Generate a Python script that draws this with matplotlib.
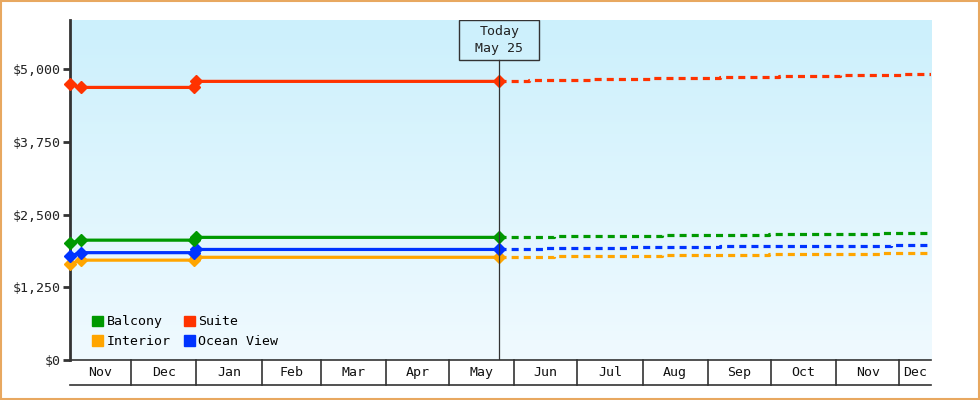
import numpy as np
import matplotlib
matplotlib.use('Agg')
import matplotlib.pyplot as plt
import matplotlib.dates as mdates
from matplotlib.patches import Patch, Rectangle
from datetime import date, timedelta

matplotlib.rcParams.update({'font.size': 9.5, 'font.family': 'DejaVu Sans Mono'})

# Data
start = date(2018, 11, 2)
end = date(2019, 12, 16)
today = date(2019, 5, 25)

hist_dates = [date(2018, 11, 2), date(2018, 11, 7), date(2018, 12, 31), date(2019, 1, 1), date(2019, 5, 25)]
balcony = [2010, 2062, 2062, 2110, 2110]
suite = [4742, 4690, 4690, 4794, 4794]
ocean = [1787, 1847, 1847, 1902, 1902]
interior = [1650, 1718, 1718, 1767, 1767]

# forecast (step changes)
suite_fc_dates = [date(2019, 5, 25), date(2019, 6, 8), date(2019, 7, 8), date(2019, 8, 6), date(2019, 9, 7),
                  date(2019, 10, 5), date(2019, 11, 3), date(2019, 12, 2), date(2019, 12, 16)]
suite_fc = [4794, 4811, 4828, 4845, 4862, 4880, 4897, 4914, 4914]
balcony_fc_dates = [date(2019, 5, 25), date(2019, 6, 20), date(2019, 8, 10), date(2019, 9, 30),
                    date(2019, 11, 22), date(2019, 12, 16)]
balcony_fc = [2110, 2130, 2147, 2165, 2182, 2182]
interior_fc_dates = balcony_fc_dates
interior_fc = [1767, 1787, 1804, 1821, 1838, 1838]
ocean_fc_dates = [date(2019, 5, 25), date(2019, 6, 15), date(2019, 7, 26), date(2019, 9, 7),
                  date(2019, 10, 15), date(2019, 11, 27), date(2019, 12, 16)]
ocean_fc = [1902, 1919, 1936, 1953, 1970, 1987, 1987]

yticks = [0, 1250, 2500, 3750, 5000]
ytick_labels = ['$0', '$1,250', '$2,500', '$3,750', '$5,000']

colors = {'Balcony': '#009900', 'Suite': '#ff3300', 'Interior': '#ffa500', 'Ocean View': '#0033ff'}

fig = plt.figure(figsize=(9.8, 4), dpi=100)
ax = fig.add_axes([70/980, 40/400, 861/980, 340/400])
ax.set_xlim(mdates.date2num(start), mdates.date2num(end))
ax.set_ylim(0, 5850)

# background gradient
grad = np.linspace(0, 1, 256).reshape(-1, 1)
top = np.array([204, 240, 252]) / 255
bot = np.array([240, 250, 255]) / 255
img = top[None, None, :] * (1 - grad[:, :, None]) + bot[None, None, :] * grad[:, :, None]
ax.imshow(img, extent=[0, 1, 0, 1], transform=ax.transAxes, aspect='auto', zorder=0)

series = [('Interior', interior, interior_fc_dates, interior_fc),
          ('Ocean View', ocean, ocean_fc_dates, ocean_fc),
          ('Balcony', balcony, balcony_fc_dates, balcony_fc),
          ('Suite', suite, suite_fc_dates, suite_fc)]
for name, vals, fdates, fvals in series:
    c = colors[name]
    ax.plot(hist_dates, vals, color=c, lw=2.3, marker='D', ms=6.5, zorder=3, clip_on=False)
    ax.plot(fdates, fvals, color=c, lw=2.3, drawstyle='steps-post',
            linestyle=(0, (2.2, 1.6)), dash_capstyle='butt', zorder=3)

# today marker
xt = ax.get_xaxis_transform()
ax.plot([today, today], [0, 1 - 40/340], color='#333333', lw=0.9, transform=xt, zorder=4)
tn = mdates.date2num(today)
half = 40 / (861 / (mdates.date2num(end) - mdates.date2num(start)))
ax.add_patch(Rectangle((tn - half, 1 - 40/340), 2 * half, 40/340, transform=xt,
                       fc='none', ec='#333333', lw=1, zorder=5))
ax.text(tn, 1 - 20/340, 'Today\nMay 25', transform=xt, ha='center', va='center',
        color='#222222', linespacing=1.4, zorder=6)

# axes styling
for s in ['top', 'right']:
    ax.spines[s].set_visible(False)
ax.spines['left'].set_color('#333333')
ax.spines['left'].set_linewidth(2)
ax.spines['bottom'].set_color('#333333')
ax.spines['bottom'].set_linewidth(1.2)
ax.set_yticks(yticks)
ax.set_yticklabels(ytick_labels, color='#222222')
ax.tick_params(axis='y', length=5, width=2, color='#333333', pad=2)
ax.set_xticks([])

# month band below axis
band = -25 / 340
ax.plot([start, end], [band, band], color='#333333', lw=1.2, transform=xt, clip_on=False)
months = [date(2018, 11, 1)]
while months[-1] < end:
    m = months[-1]
    months.append(date(m.year + (m.month == 12), m.month % 12 + 1, 1))
for i in range(len(months) - 1):
    a = max(months[i], start)
    b = min(months[i + 1], end)
    if months[i] > start:
        ax.plot([months[i], months[i]], [0, band], color='#333333', lw=1.2, transform=xt, clip_on=False)
    mid = mdates.date2num(a) + (mdates.date2num(b) - mdates.date2num(a)) / 2
    ax.text(mid, band / 2, months[i].strftime('%b'), transform=xt, ha='center', va='center',
            color='#111111')

# legend
handles = [Patch(color=colors[n]) for n in ['Balcony', 'Interior', 'Suite', 'Ocean View']]
ax.legend(handles, ['Balcony', 'Interior', 'Suite', 'Ocean View'], ncol=2, loc='lower left',
          bbox_to_anchor=(22/861, 12/340), frameon=False, borderpad=0, borderaxespad=0,
          handlelength=0.85, handleheight=0.85, handletextpad=0.25, columnspacing=1.0,
          labelspacing=0.5)

# outer border
fig.patches.append(Rectangle((0.001, 0.002), 0.998, 0.996, transform=fig.transFigure,
                             fc='none', ec='#e8a860', lw=1.5))

plt.savefig('out.png', dpi=100)
